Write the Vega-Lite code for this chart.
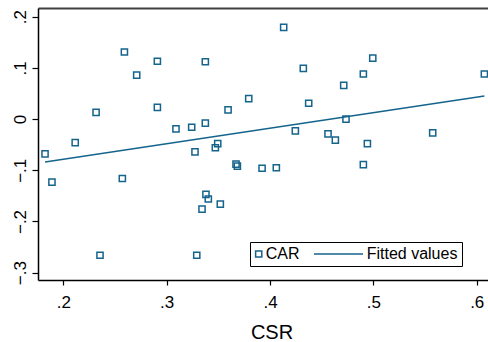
{
  "$schema": "https://vega.github.io/schema/vega-lite/v6.json",
  "width": 450,
  "height": 272,
  "autosize": "none",
  "padding": {"left": 38, "top": 8, "right": 0, "bottom": 62},
  "background": "white",
  "config": {
    "view": {"stroke": null},
    "font": "Liberation Sans",
    "axis": {"grid": false, "domainColor": "black", "tickColor": "black", "labelColor": "black", "titleColor": "black", "domainWidth": 1.5, "tickWidth": 1.2}
  },
  "datasets": {
    "pts": [
      {"CSR": 0.1823, "CAR": -0.068},
      {"CSR": 0.189, "CAR": -0.123},
      {"CSR": 0.2115, "CAR": -0.046},
      {"CSR": 0.2317, "CAR": 0.013},
      {"CSR": 0.2355, "CAR": -0.266},
      {"CSR": 0.2591, "CAR": 0.131},
      {"CSR": 0.2571, "CAR": -0.116},
      {"CSR": 0.2710, "CAR": 0.086},
      {"CSR": 0.2910, "CAR": 0.113},
      {"CSR": 0.2910, "CAR": 0.023},
      {"CSR": 0.3090, "CAR": -0.019},
      {"CSR": 0.3242, "CAR": -0.016},
      {"CSR": 0.3274, "CAR": -0.064},
      {"CSR": 0.3291, "CAR": -0.266},
      {"CSR": 0.3374, "CAR": 0.112},
      {"CSR": 0.3374, "CAR": -0.008},
      {"CSR": 0.3380, "CAR": -0.147},
      {"CSR": 0.3403, "CAR": -0.156},
      {"CSR": 0.3342, "CAR": -0.176},
      {"CSR": 0.3471, "CAR": -0.056},
      {"CSR": 0.3494, "CAR": -0.048},
      {"CSR": 0.3519, "CAR": -0.166},
      {"CSR": 0.3594, "CAR": 0.018},
      {"CSR": 0.3671, "CAR": -0.088},
      {"CSR": 0.3684, "CAR": -0.092},
      {"CSR": 0.3794, "CAR": 0.040},
      {"CSR": 0.3923, "CAR": -0.096},
      {"CSR": 0.4061, "CAR": -0.095},
      {"CSR": 0.4132, "CAR": 0.179},
      {"CSR": 0.4245, "CAR": -0.023},
      {"CSR": 0.4322, "CAR": 0.099},
      {"CSR": 0.4374, "CAR": 0.031},
      {"CSR": 0.4561, "CAR": -0.029},
      {"CSR": 0.4632, "CAR": -0.041},
      {"CSR": 0.4713, "CAR": 0.066},
      {"CSR": 0.4735, "CAR": 0.000},
      {"CSR": 0.4903, "CAR": -0.089},
      {"CSR": 0.4903, "CAR": 0.088},
      {"CSR": 0.4942, "CAR": -0.048},
      {"CSR": 0.4994, "CAR": 0.119},
      {"CSR": 0.5574, "CAR": -0.027},
      {"CSR": 0.6074, "CAR": 0.088}
    ],
    "fit": [
      {"CSR": 0.1823, "fitted": -0.084},
      {"CSR": 0.6074, "fitted": 0.045}
    ]
  },
  "layer": [
    {
      "data": {"name": "pts"},
      "mark": {"type": "point", "filled": false, "size": 38, "strokeWidth": 1.5, "opacity": 1, "color": "#15648c"},
      "encoding": {
        "x": {
          "field": "CSR", "type": "quantitative",
          "scale": {"domain": [0.1755, 0.6109], "nice": false, "zero": false},
          "axis": {
            "orient": "bottom",
            "values": [0.2, 0.3, 0.4, 0.5, 0.6],
            "labelExpr": "datum.value == 0 ? '0' : replace(format(datum.value, '.1f'), '0.', '.')",
            "labelFontSize": 17, "labelBaseline": "alphabetic", "tickSize": 5, "labelPadding": 22,
            "labelFlush": false,
            "title": "CSR", "titleFontSize": 20, "titleFontWeight": "normal",
            "titleBaseline": "alphabetic", "titleX": 233.5, "titleY": 58, "titleAnchor": "start", "titleAlign": "center"
          }
        },
        "y": {
          "field": "CAR", "type": "quantitative",
          "scale": {"domain": [-0.3143, 0.217], "nice": false, "zero": false},
          "axis": {
            "values": [-0.3, -0.2, -0.1, 0, 0.1, 0.2],
            "labelExpr": "datum.value == 0 ? '0' : replace(format(datum.value, '.1f'), '0.', '.')",
            "labelFontSize": 17, "labelAngle": 270, "labelAlign": "center", "labelBaseline": "alphabetic",
            "tickSize": 6, "labelPadding": 7, "labelFlush": false,
            "title": null
          }
        },
        "shape": {
          "datum": "CAR",
          "scale": {"domain": ["CAR", "Fitted values"], "range": ["square", "M-14.83,0H1.071"]},
          "legend": {
            "orient": "none", "legendX": 212, "legendY": 234, "direction": "horizontal",
            "title": null, "strokeColor": "black", "fillColor": "white", "padding": 4,
            "labelFontSize": 16, "labelColor": "black", "labelOffset": -1, "symbolOffset": -3.3,
            "symbolSize": 38, "symbolStrokeWidth": 1.5, "symbolStrokeColor": "#15648c", "symbolFillColor": "transparent",
            "columnPadding": 10
          }
        }
      }
    },
    {
      "data": {"name": "fit"},
      "mark": {"type": "line", "strokeWidth": 1.5, "color": "#15648c"},
      "encoding": {
        "x": {
          "field": "CSR", "type": "quantitative",
          "axis": {"orient": "top", "labels": false, "ticks": false, "title": null, "domainColor": "#404040", "domainWidth": 2}
        },
        "y": {"field": "fitted", "type": "quantitative"}
      }
    }
  ],
  "resolve": {"axis": {"x": "independent"}}
}
